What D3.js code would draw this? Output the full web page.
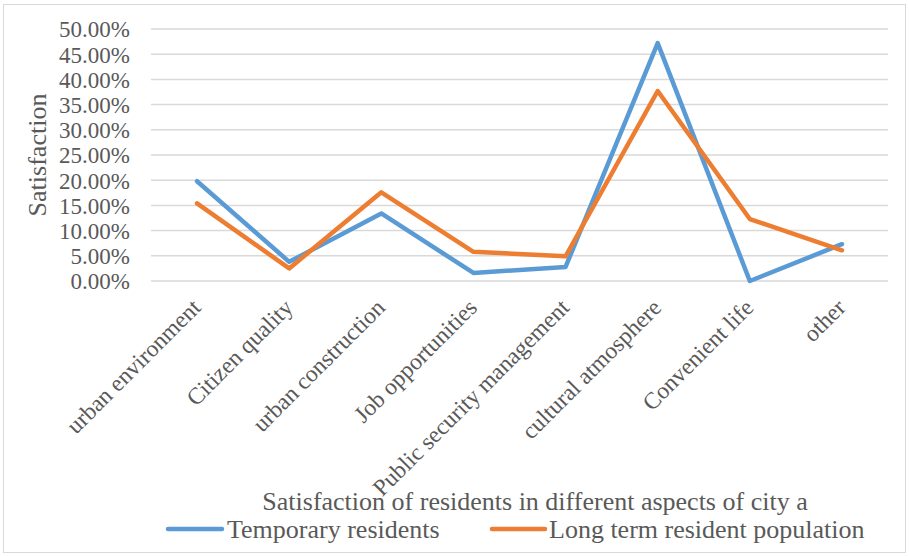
<!DOCTYPE html>
<html>
<head>
<meta charset="utf-8">
<script src="https://cdn.jsdelivr.net/npm/d3@7"></script>
<style>
  html, body { margin: 0; padding: 0; background: #fff; }
  svg { display: block; }
  text { font-family: "Liberation Serif", "Times New Roman", serif; fill: #595959; }
</style>
</head>
<body>
<svg id="chart" width="909" height="556"></svg>
<script>
// Survey aspects of city life
const categories = [
  "urban environment", "Citizen quality", "urban construction", "Job opportunities",
  "Public security management", "cultural atmosphere", "Convenient life", "other"
];
// Satisfaction shares (fractions) per group
const temporaryResidents = [0.198, 0.038, 0.134, 0.016, 0.028, 0.472, 0.000, 0.073];
const longTermResidents  = [0.154, 0.025, 0.176, 0.058, 0.049, 0.377, 0.123, 0.061];
const seriesNames = ["Temporary residents", "Long term resident population"];
const seriesColors = ["#5B9BD5", "#ED7D31"];
const yTicks = [0, 0.05, 0.10, 0.15, 0.20, 0.25, 0.30, 0.35, 0.40, 0.45, 0.50];
const chartTitle = "Satisfaction of residents in different aspects of city a";
const yAxisTitle = "Satisfaction";

const svg = d3.select("#chart");
const W = 909, H = 556;

// outer frame
svg.append("rect")
  .attr("x", 3.5).attr("y", 4.5).attr("width", W - 7).attr("height", H - 8)
  .attr("fill", "none").attr("stroke", "#D9D9D9").attr("stroke-width", 1);

const plot = { left: 151, right: 888, top: 29, bottom: 281 };

const x = d3.scaleBand().domain(categories).range([plot.left, plot.right]);
const y = d3.scaleLinear().domain([0, 0.5]).range([plot.bottom, plot.top]);

// gridlines
svg.append("g").selectAll("line").data(yTicks).join("line")
  .attr("x1", plot.left).attr("x2", plot.right)
  .attr("y1", d => y(d)).attr("y2", d => y(d))
  .attr("stroke", "#D9D9D9").attr("stroke-width", 1.5);

// y axis labels
const yAxis = d3.axisLeft(y).tickValues(yTicks).tickFormat(d3.format(".2%")).tickSize(0).tickPadding(0);
const gy = svg.append("g").attr("transform", "translate(130,0)").call(yAxis);
gy.attr("font-family", null);
gy.select(".domain").remove();
gy.selectAll("text")
  .style("font-family", '"Liberation Serif", serif')
  .style("font-size", "23px").attr("fill", "#595959").attr("dy", "0.34em");

// y axis title
svg.append("text")
  .attr("transform", "translate(46,155) rotate(-90)")
  .attr("text-anchor", "middle")
  .style("font-size", "26px")
  .text(yAxisTitle);

// category labels, rotated
const cx = d => x(d) + x.bandwidth() / 2;
svg.append("g").selectAll("text").data(categories).join("text")
  .attr("transform", d => `translate(${cx(d) + 5},${309}) rotate(-45)`)
  .attr("text-anchor", "end")
  .style("font-size", "23.5px")
  .text(d => d);

// series lines
const line = d3.line().x((d, i) => cx(categories[i])).y(d => y(d));
[temporaryResidents, longTermResidents].forEach((vals, k) => {
  svg.append("path")
    .datum(vals)
    .attr("d", line)
    .attr("fill", "none")
    .attr("stroke", seriesColors[k])
    .attr("stroke-width", 4.5)
    .attr("stroke-linejoin", "round")
    .attr("stroke-linecap", "round");
});

// chart title (below axis labels)
svg.append("text")
  .attr("x", 535).attr("y", 510)
  .attr("text-anchor", "middle")
  .style("font-size", "26px")
  .text(chartTitle);

// legend
const legendItems = [
  { x1: 168, x2: 222, tx: 227 },
  { x1: 492, x2: 545, tx: 549 }
];
legendItems.forEach((it, k) => {
  svg.append("line")
    .attr("x1", it.x1).attr("x2", it.x2).attr("y1", 529).attr("y2", 529)
    .attr("stroke", seriesColors[k]).attr("stroke-width", 4.5).attr("stroke-linecap", "round");
  svg.append("text")
    .attr("x", it.tx).attr("y", 538)
    .style("font-size", "26px")
    .text(seriesNames[k]);
});
</script>
</body>
</html>
